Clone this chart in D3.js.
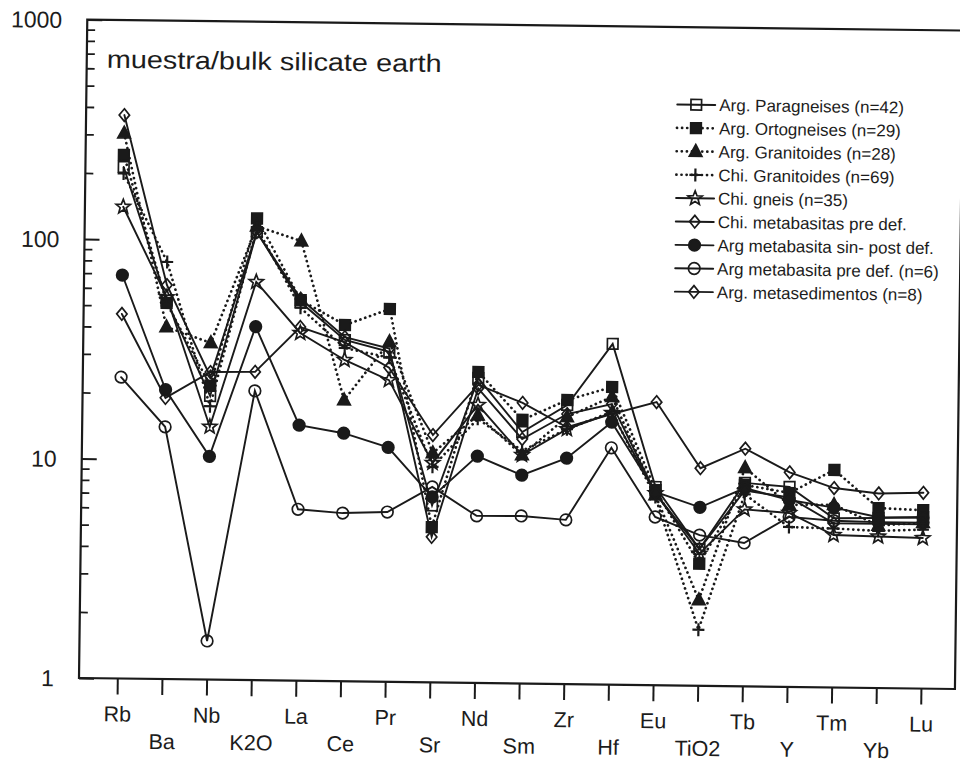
<!DOCTYPE html>
<html>
<head>
<meta charset="utf-8">
<script src="https://cdn.jsdelivr.net/npm/d3@7"></script>
<style>
  body { margin: 0; background: #fff; }
  text { font-family: "Liberation Sans", Arial, Helvetica, sans-serif; fill: #1c1c1c; }
</style>
</head>
<body>
<script>
let width = 960;
let height = 764;

// elements on the x axis
const elements = ["Rb","Ba","Nb","K2O","La","Ce","Pr","Sr","Nd","Sm","Zr","Hf","Eu","TiO2","Tb","Y","Tm","Yb","Lu"];
const yTicks = [1, 10, 100, 1000];

// normalised values (muestra / bulk silicate earth)
const argParagneises = [214, 53, 19.6, 110, 53, 35.9, 31.9, 6.4, 24.5, 14, 18.7, 35.7, 8.0, 4.2, 8.45, 8.15, 5.9, 5.95, 6.05];
const argOrtogneises = [243, 51.7, 21.8, 127, 54.2, 42, 50, 5.1, 26.1, 15.9, 19.7, 22.7, 7.75, 3.6, 8.27, 7.65, 9.8, 6.6, 6.5];
const argGranitoides = [305, 40.2, 34.2, 117, 100.7, 19.1, 35.4, 11.1, 16.6, 11, 16.5, 20.5, 7.35, 2.46, 9.9, 6.75, 6.8, 5.5, 5.7];
const chiGranitoides = [200, 79.5, 17.6, 115, 50, 33, 30, 9.6, 16, 11.5, 14.5, 17.5, 7.2, 1.8, 7.5, 5.35, 5.3, 5.2, 5.3];
const chiGneis = [141, 55, 14.2, 65.2, 38.4, 29.1, 23.7, 10, 18.5, 11, 14.5, 17.3, 7.5, 4.0, 6.4, 6.2, 4.95, 4.9, 4.85];
const chiMetabasitas = [45.8, 19.1, 25.2, 25.4, 40.9, 35, 27, 13.4, 22.8, 19, 14.8, 17.1, 19.5, 9.8, 12.1, 9.5, 8.1, 7.7, 7.8];
const argMetabasitaSin = [68.9, 20.8, 10.4, 40.8, 14.6, 13.5, 11.7, 7.0, 10.8, 8.9, 10.7, 15.7, 7.6, 6.5, 8.0, 7.1, 6.6, 6.0, 6.0];
const argMetabasitaPre = [23.6, 14.1, 1.5, 20.8, 6.04, 5.84, 5.94, 7.77, 5.77, 5.8, 5.6, 12.0, 5.84, 4.86, 4.5, 5.95, 5.75, 5.7, 5.7];
const argMetasedimentos = [369, 62.4, 24, 110, 55, 37, 33, 4.6, 22, 13, 17, 19, 7.5, 4.2, 7.8, 7.3, 5.6, 5.6, 5.6];

const seriesNames = [
  "Arg. Paragneises (n=42)",
  "Arg. Ortogneises (n=29)",
  "Arg. Granitoides (n=28)",
  "Chi. Granitoides (n=69)",
  "Chi. gneis (n=35)",
  "Chi. metabasitas pre def.",
  "Arg metabasita sin- post def.",
  "Arg metabasita pre def. (n=6)",
  "Arg. metasedimentos (n=8)"
];
const seriesValues = [argParagneises, argOrtogneises, argGranitoides, chiGranitoides, chiGneis,
  chiMetabasitas, argMetabasitaSin, argMetabasitaPre, argMetasedimentos];
const seriesMarkers = ["squareOpen", "squareFilled", "triangle", "plus", "star", "diamond", "circleFilled", "circleOpen", "diamond"];
const seriesDotted = [false, true, true, true, false, false, false, false, false];

const ink = "#1a1a1a";

let svg = d3.select("body").append("svg")
  .attr("width", width)
  .attr("height", height);

svg.append("rect").attr("width", width).attr("height", height).attr("fill", "#fff");

// the scanned figure sits slightly rotated
let g = svg.append("g").attr("transform", "rotate(0.72, 79, 678)");

let plotLeft = 79, plotRight = 955, plotTop = 19.5, plotBottom = 678;

let x = d3.scalePoint().domain(elements).range([117.3, 921]);
let y = d3.scaleLog().domain([1, 1000]).range([plotBottom, plotTop]);

// frame
g.append("rect")
  .attr("x", plotLeft).attr("y", plotTop)
  .attr("width", plotRight - plotLeft).attr("height", plotBottom - plotTop)
  .attr("fill", "none").attr("stroke", ink).attr("stroke-width", 2.2);

// y axis, major ticks
let yAxis = g.append("g")
  .attr("transform", `translate(${plotLeft},0)`)
  .call(d3.axisLeft(y).tickValues(yTicks).tickSize(-15).tickPadding(25).tickFormat(d3.format("d")));
yAxis.select(".domain").remove();
yAxis.selectAll("line").attr("stroke", ink).attr("stroke-width", 2);
yAxis.selectAll("text").attr("font-size", 23).attr("fill", ink).attr("dy", "0.35em");

// y axis, minor ticks
let minor = [];
[1, 10, 100].forEach((d) => { for (let k = 2; k < 10; k++) minor.push(d * k); });
let yMinor = g.append("g")
  .attr("transform", `translate(${plotLeft},0)`)
  .call(d3.axisLeft(y).tickValues(minor).tickSize(-8).tickFormat(""));
yMinor.select(".domain").remove();
yMinor.selectAll("line").attr("stroke", ink).attr("stroke-width", 1.8);

// x axis
let xAxis = g.append("g")
  .attr("transform", `translate(0,${plotBottom})`)
  .call(d3.axisBottom(x).tickSize(16).tickSizeOuter(0));
xAxis.select(".domain").remove();
xAxis.selectAll("line").attr("stroke", ink).attr("stroke-width", 2);
xAxis.selectAll("text")
  .attr("font-size", 21.5)
  .attr("fill", ink)
  .attr("dy", 0)
  .attr("y", (d, i) => i % 2 === 0 ? 43 : 70);

// title
g.append("text")
  .attr("x", 99).attr("y", 67.5)
  .attr("font-size", 25)
  .attr("textLength", 335)
  .attr("lengthAdjust", "spacingAndGlyphs")
  .text("muestra/bulk silicate earth");

function markerPath(type) {
  if (type === "squareOpen" || type === "squareFilled") return "M-5.3,-5.3H5.3V5.3H-5.3Z";
  if (type === "triangle") return "M0,-7L6.3,4.7H-6.3Z";
  if (type === "plus") return "M-6,0H6M0,-6.5V6.5";
  if (type === "diamond") return "M0,-6.3L5.2,0L0,6.3L-5.2,0Z";
  if (type === "star") {
    let pts = [];
    for (let k = 0; k < 10; k++) {
      let r = k % 2 === 0 ? 7.5 : 3.2;
      let a = -Math.PI / 2 + k * Math.PI / 5;
      pts.push([r * Math.cos(a), r * Math.sin(a)]);
    }
    return "M" + pts.map((p) => p.join(",")).join("L") + "Z";
  }
  return d3.symbol(d3.symbolCircle, 105)();
}

function drawMarker(sel, type) {
  let filled = type === "squareFilled" || type === "triangle" || type === "circleFilled";
  sel.append("path")
    .attr("d", markerPath(type))
    .attr("fill", filled ? ink : "none")
    .attr("stroke", ink)
    .attr("stroke-width", type === "plus" ? 2.2 : 1.7);
}

let line = d3.line()
  .x((d, i) => x(elements[i]))
  .y((d) => y(d));

// lines
seriesValues.forEach((vals, s) => {
  g.append("path")
    .datum(vals)
    .attr("d", line)
    .attr("fill", "none")
    .attr("stroke", ink)
    .attr("stroke-width", seriesDotted[s] ? 2.7 : 1.9)
    .attr("stroke-linecap", "round")
    .attr("stroke-dasharray", seriesDotted[s] ? "0.1,5" : null);
});

// markers
seriesValues.forEach((vals, s) => {
  vals.forEach((v, i) => {
    let m = g.append("g").attr("transform", `translate(${x(elements[i])},${y(v)})`);
    drawMarker(m, seriesMarkers[s]);
  });
});

// legend
let legend = g.append("g").attr("transform", "translate(670,97)");
seriesNames.forEach((name, s) => {
  let row = legend.append("g").attr("transform", `translate(0,${s * 23.4})`);
  row.append("line")
    .attr("x1", 0).attr("x2", 38)
    .attr("stroke", ink)
    .attr("stroke-width", seriesDotted[s] ? 2.7 : 1.9)
    .attr("stroke-linecap", "round")
    .attr("stroke-dasharray", seriesDotted[s] ? "0.1,5" : null);
  drawMarker(row.append("g").attr("transform", "translate(19,0)"), seriesMarkers[s]);
  row.append("text")
    .attr("x", 42).attr("y", 6)
    .attr("font-size", 17)
    .text(name);
});
</script>
</body>
</html>
